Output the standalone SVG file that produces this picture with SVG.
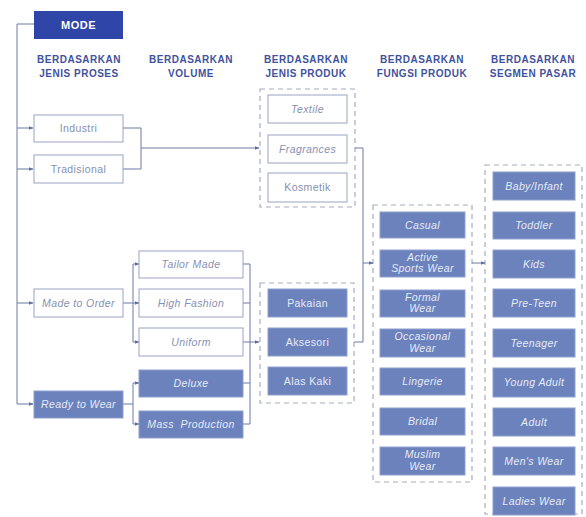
<svg xmlns="http://www.w3.org/2000/svg" width="586" height="517" viewBox="0 0 586 517">
<defs>
<marker id="ar" markerWidth="5" markerHeight="5" refX="4.5" refY="2.5" orient="auto" markerUnits="userSpaceOnUse">
<path d="M0,0.5 L5,2.5 L0,4.5 Z" fill="#5f6f9e"/>
</marker>
<style>
.hd{font-family:"Liberation Sans",Arial,sans-serif;font-weight:bold;font-size:10px;fill:#3f529e;text-anchor:middle;letter-spacing:0.5px}
.wb rect{fill:#ffffff;stroke:#9aa3c4;stroke-width:1}
.wb text{font-family:"Liberation Sans",Arial,sans-serif;font-size:10.5px;fill:#8690b2;text-anchor:middle;letter-spacing:0.4px}
.fb rect{fill:#6c82bd;stroke:#8fa0cf;stroke-width:1}
.fb text{font-family:"Liberation Sans",Arial,sans-serif;font-size:10.5px;fill:#e6ebf6;text-anchor:middle;letter-spacing:0.4px}
.it{font-style:italic}
.grp{fill:none;stroke:#a6acbc;stroke-width:1.2;stroke-dasharray:5,4}
.ln{fill:none;stroke:#6c7aa5;stroke-width:1}
</style>
</defs>
<rect width="586" height="517" fill="#ffffff"/>

<g id="mode">
<rect x="34" y="11" width="89" height="28" fill="#2f45a8"/>
<text x="78.5" y="29" font-family="'Liberation Sans',Arial,sans-serif" font-weight="bold" font-size="11" fill="#ffffff" text-anchor="middle" letter-spacing="0.5">MODE</text>
</g>

<g id="headers">
<text class="hd" x="79" y="63">BERDASARKAN</text><text class="hd" x="79" y="77">JENIS PROSES</text>
<text class="hd" x="191" y="63">BERDASARKAN</text><text class="hd" x="191" y="77">VOLUME</text>
<text class="hd" x="306" y="63">BERDASARKAN</text><text class="hd" x="306" y="77">JENIS PRODUK</text>
<text class="hd" x="422" y="63">BERDASARKAN</text><text class="hd" x="422" y="77">FUNGSI PRODUK</text>
<text class="hd" x="533" y="63">BERDASARKAN</text><text class="hd" x="533" y="77">SEGMEN PASAR</text>
</g>

<g id="groups">
<rect class="grp" x="260" y="89" width="95" height="118"/>
<rect class="grp" x="260" y="283" width="94" height="120"/>
<rect class="grp" x="373" y="205" width="99" height="277"/>
<rect class="grp" x="485" y="165" width="97" height="349"/>
</g>

<g id="connectors">
<path class="ln" d="M34,24 H17 V404"/>
<path class="ln" d="M17,128 H33" marker-end="url(#ar)"/>
<path class="ln" d="M17,169 H33" marker-end="url(#ar)"/>
<path class="ln" d="M17,303 H33" marker-end="url(#ar)"/>
<path class="ln" d="M17,404 H33" marker-end="url(#ar)"/>
<path class="ln" d="M123,128 H141 V169 H123"/>
<path class="ln" d="M141,148 H259" marker-end="url(#ar)"/>
<path class="ln" d="M123,303 H133"/>
<path class="ln" d="M133,264 V342"/>
<path class="ln" d="M133,264 H139" marker-end="url(#ar)"/>
<path class="ln" d="M133,303 H139" marker-end="url(#ar)"/>
<path class="ln" d="M133,342 H139" marker-end="url(#ar)"/>
<path class="ln" d="M123,404 H133 M133,383 V424"/>
<path class="ln" d="M133,383 H139" marker-end="url(#ar)"/>
<path class="ln" d="M133,424 H139" marker-end="url(#ar)"/>
<path class="ln" d="M243,264 H250 M243,303 H250 M243,342 H250 M243,383 H250 M243,424 H250 M250,264 V424"/>
<path class="ln" d="M250,342 H259" marker-end="url(#ar)"/>
<path class="ln" d="M355,148 H363 V342 H354"/>
<path class="ln" d="M363,263 H373" marker-end="url(#ar)"/>
<path class="ln" d="M472,263 H485" marker-end="url(#ar)"/>
</g>

<g id="industri" class="wb"><rect x="34" y="115" width="89" height="27"/><text x="78.5" y="132">Industri</text></g>
<g id="tradisional" class="wb"><rect x="34" y="155" width="89" height="28"/><text x="78.5" y="173">Tradisional</text></g>
<g id="made-to-order" class="wb"><rect x="34" y="289" width="89" height="28"/><text class="it" x="78.5" y="307">Made to Order</text></g>
<g id="ready-to-wear" class="fb"><rect x="34" y="391" width="89" height="27"/><text class="it" x="78.5" y="408">Ready to Wear</text></g>

<g id="tailor-made" class="wb"><rect x="139" y="251" width="104" height="27"/><text class="it" x="191" y="268">Tailor Made</text></g>
<g id="high-fashion" class="wb"><rect x="139" y="289" width="104" height="28"/><text class="it" x="191" y="307">High Fashion</text></g>
<g id="uniform" class="wb"><rect x="139" y="328" width="104" height="28"/><text class="it" x="191" y="346">Uniform</text></g>
<g id="deluxe" class="fb"><rect x="139" y="370" width="104" height="27"/><text class="it" x="191" y="387">Deluxe</text></g>
<g id="mass-production" class="fb"><rect x="139" y="411" width="104" height="27"/><text class="it" x="191" y="428">Mass&#160; Production</text></g>

<g id="textile" class="wb"><rect x="268" y="95" width="79" height="28"/><text class="it" x="307.5" y="113">Textile</text></g>
<g id="fragrances" class="wb"><rect x="268" y="135" width="79" height="28"/><text class="it" x="307.5" y="153">Fragrances</text></g>
<g id="kosmetik" class="wb"><rect x="268" y="173" width="79" height="29"/><text x="307.5" y="191">Kosmetik</text></g>

<g id="pakaian" class="fb"><rect x="268" y="289" width="79" height="28"/><text x="307.5" y="307">Pakaian</text></g>
<g id="aksesori" class="fb"><rect x="268" y="328" width="79" height="28"/><text x="307.5" y="346">Aksesori</text></g>
<g id="alas-kaki" class="fb"><rect x="268" y="367" width="79" height="28"/><text x="307.5" y="385">Alas Kaki</text></g>

<g id="casual" class="fb"><rect x="380" y="212" width="85" height="26"/><text class="it" x="422.5" y="229">Casual</text></g>
<g id="active-sports-wear" class="fb"><rect x="380" y="250" width="85" height="27"/><text class="it" x="422.5" y="261">Active</text><text class="it" x="422.5" y="272">Sports Wear</text></g>
<g id="formal-wear" class="fb"><rect x="380" y="290" width="85" height="27"/><text class="it" x="422.5" y="301">Formal</text><text class="it" x="422.5" y="312">Wear</text></g>
<g id="occasional-wear" class="fb"><rect x="380" y="329" width="85" height="28"/><text class="it" x="422.5" y="340">Occasional</text><text class="it" x="422.5" y="352">Wear</text></g>
<g id="lingerie" class="fb"><rect x="380" y="368" width="85" height="27"/><text class="it" x="422.5" y="385">Lingerie</text></g>
<g id="bridal" class="fb"><rect x="380" y="408" width="85" height="27"/><text class="it" x="422.5" y="425">Bridal</text></g>
<g id="muslim-wear" class="fb"><rect x="380" y="447" width="85" height="28"/><text class="it" x="422.5" y="458">Muslim</text><text class="it" x="422.5" y="470">Wear</text></g>

<g id="baby-infant" class="fb"><rect x="493" y="172" width="82" height="28"/><text class="it" x="534" y="190">Baby/Infant</text></g>
<g id="toddler" class="fb"><rect x="493" y="212" width="82" height="27"/><text class="it" x="534" y="229">Toddler</text></g>
<g id="kids" class="fb"><rect x="493" y="250" width="82" height="28"/><text class="it" x="534" y="268">Kids</text></g>
<g id="pre-teen" class="fb"><rect x="493" y="289" width="82" height="28"/><text class="it" x="534" y="307">Pre-Teen</text></g>
<g id="teenager" class="fb"><rect x="493" y="329" width="82" height="28"/><text class="it" x="534" y="347">Teenager</text></g>
<g id="young-adult" class="fb"><rect x="493" y="368" width="82" height="29"/><text class="it" x="534" y="386">Young Adult</text></g>
<g id="adult" class="fb"><rect x="493" y="408" width="82" height="28"/><text class="it" x="534" y="426">Adult</text></g>
<g id="mens-wear" class="fb"><rect x="493" y="447" width="82" height="28"/><text class="it" x="534" y="465">Men's Wear</text></g>
<g id="ladies-wear" class="fb"><rect x="493" y="487" width="82" height="28"/><text class="it" x="534" y="505">Ladies Wear</text></g>
</svg>
